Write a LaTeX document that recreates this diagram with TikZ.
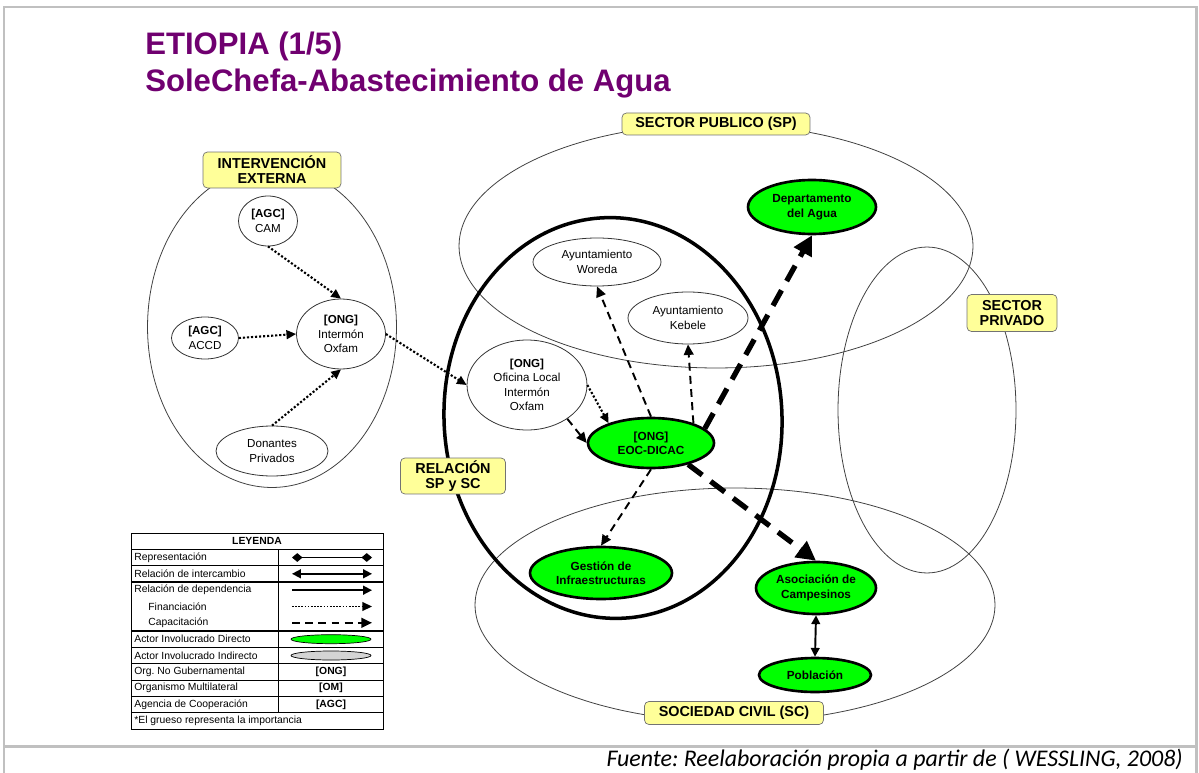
\documentclass[tikz,border=0pt]{standalone}
\usepackage{fontspec}
\setsansfont{Liberation Sans}
\newfontfamily\fuentefont{Carlito}
\usetikzlibrary{arrows.meta,shapes.geometric}
\definecolor{titlepurple}{RGB}{112,0,112}
\definecolor{tagyellow}{RGB}{255,255,153}
\definecolor{actorgreen}{RGB}{0,255,0}
\definecolor{framegray}{RGB}{192,192,192}
\frenchspacing

\begin{document}
\begin{tikzpicture}[
  x=0.02cm, y=-0.02cm,
  font=\sffamily,
  region/.style={draw=black!75, line width=0.45pt, ellipse, inner sep=0pt},
  sectortag/.style={draw=black!55, fill=tagyellow, rounded corners=2.5pt, align=center, inner sep=0pt, font=\sffamily\bfseries\fontsize{8.2}{8.6}\selectfont},
  actor/.style={draw=black!80, line width=0.45pt, ellipse, fill=white, inner sep=0pt, align=center, font=\sffamily\fontsize{6.6}{8.2}\selectfont},
  directo/.style={draw, line width=1.5pt, ellipse, fill=actorgreen, inner sep=0pt, align=center, font=\sffamily\bfseries\fontsize{6.7}{8.2}\selectfont},
  finan/.style={-{Triangle[length=5.5pt,width=5pt]}, line width=1.2pt, dash pattern=on 1.2pt off 1.1pt},
  capac/.style={-{Triangle[length=6pt,width=5.5pt]}, line width=1.1pt, dash pattern=on 4.5pt off 3pt},
  bigcapac/.style={-{Triangle[length=11pt,width=11pt]}, line width=3pt, dash pattern=on 10pt off 6pt},
  exch/.style={{Triangle[length=5pt,width=5pt]}-{Triangle[length=5pt,width=5pt]}, line width=1.1pt},
  legtxt/.style={anchor=west, inner sep=0pt, font=\sffamily\fontsize{5.9}{7}\selectfont},
  legmark/.style={inner sep=0pt, font=\sffamily\bfseries\fontsize{5.9}{7}\selectfont}
]
\useasboundingbox (0,0) rectangle (1199,773);

% frame and source line
\draw[framegray, line width=1.7pt] (4,773) -- (4,7) -- (1196,7) -- (1196,773);
\draw[framegray, line width=1.7pt] (4,746) -- (1196,746);
\node[anchor=base east, inner sep=0pt, font=\fuentefont\itshape\fontsize{13.6}{15}\selectfont] (fuente) at (1183,766)
  {Fuente: Reelaboración propia a partir de ( WESSLING, 2008)};

% title
\node[anchor=base west, inner sep=0pt, text=titlepurple, font=\sffamily\bfseries\fontsize{17.7}{21}\selectfont] (title1) at (145,55) {ETIOPIA (1/5)};
\node[anchor=base west, inner sep=0pt, text=titlepurple, font=\sffamily\bfseries\fontsize{17.7}{21}\selectfont] (title2) at (145,92) {SoleChefa-Abastecimiento de Agua};

% sectors
\node[region, minimum width=4.98cm, minimum height=6.42cm] (ext) at (272,327) {};
\node[region, minimum width=10.28cm, minimum height=4.88cm] (sp) at (716,246) {};
\node[region, minimum width=3.56cm, minimum height=6.52cm] (spriv) at (927,410) {};
\node[region, minimum width=10.4cm, minimum height=4.68cm] (sc) at (735,605) {};
\node[region, draw=black, line width=2pt, minimum width=6.76cm, minimum height=8.02cm, rotate=3] (rel) at (613,418) {};

% external intervention
\node[actor, minimum width=1.18cm, minimum height=1.0cm] (cam) at (268,221) {{\bfseries [AGC]}\\CAM};
\node[actor, minimum width=1.34cm, minimum height=0.84cm] (accd) at (205,338) {{\bfseries [AGC]}\\ACCD};
\node[actor, minimum width=1.78cm, minimum height=1.4cm] (intermon) at (341,334) {{\bfseries [ONG]}\\Intermón\\Oxfam};
\node[actor, minimum width=2.24cm, minimum height=1.0cm] (donantes) at (272,451) {Donantes\\Privados};

% local actors
\node[actor, minimum width=2.56cm, minimum height=0.96cm] (woreda) at (597,262) {Ayuntamiento\\Woreda};
\node[actor, minimum width=2.4cm, minimum height=1.04cm] (kebele) at (688,318) {Ayuntamiento\\Kebele};
\node[actor, minimum width=2.4cm, minimum height=1.8cm] (oficina) at (527,385) {{\bfseries [ONG]}\\Oficina Local\\Intermón\\Oxfam};
\node[directo, minimum width=2.52cm, minimum height=1.0cm] (eoc) at (651,443) {[ONG]\\EOC-DICAC};
\node[directo, minimum width=2.56cm, minimum height=1.08cm] (dpto) at (812,207) {Departamento\\del Agua};
\node[directo, minimum width=2.84cm, minimum height=1.04cm] (gestion) at (601,573) {Gestión de\\Infraestructuras};
\node[directo, minimum width=2.4cm, minimum height=1.04cm] (asoc) at (816,588) {Asociación de\\Campesinos};
\node[directo, minimum width=2.24cm, minimum height=0.68cm] (poblacion) at (815,675) {Población};

% relations
\draw[finan] (cam.south) -- (intermon.north);
\draw[finan] (accd.east) -- (intermon.west);
\draw[finan] (donantes.north) -- (intermon.south);
\draw[finan] (intermon.east) -- (oficina.west);
\draw[finan] (oficina.east) -- (eoc.155);
\draw[capac] (oficina.-40) -- (eoc.west);
\draw[capac] (eoc.north) -- (woreda.south);
\draw[capac] (eoc.25) -- (kebele.south);
\draw[capac] (eoc.south) -- (gestion.north);
\draw[bigcapac] (eoc.15) -- (dpto.south);
\draw[bigcapac] (eoc.-30) -- (asoc.north);
\draw[exch] (asoc.south) -- (poblacion.north);

% sector labels
\node[sectortag, minimum width=2.76cm, minimum height=0.72cm] (exttag) at (272,170) {INTERVENCIÓN\\EXTERNA};
\node[sectortag, minimum width=3.76cm, minimum height=0.44cm] (sptag) at (716,124) {SECTOR PUBLICO (SP)};
\node[sectortag, minimum width=1.8cm, minimum height=0.74cm] (sprivtag) at (1012,313) {SECTOR\\PRIVADO};
\node[sectortag, minimum width=2.1cm, minimum height=0.72cm] (reltag) at (453,476) {RELACIÓN\\SP y SC};
\node[sectortag, minimum width=3.58cm, minimum height=0.46cm] (sctag) at (734,713) {SOCIEDAD CIVIL (SC)};

% legend
\draw[line width=0.5pt] (131,533) rectangle (383,729);
\foreach \k in {1,2,3,6,7,8,9,10,11}
  \draw[line width=0.5pt] (131,{533+16.33*\k}) -- (383,{533+16.33*\k});
\foreach \k in {1,2,3,6,8,11}
  \draw[line width=0.9pt] (131,{533+16.33*\k}) -- (383,{533+16.33*\k});
\draw[line width=0.5pt] (278,549.3) -- (278,712.6);
\node[legmark] (leyenda) at (257,541.2) {LEYENDA};
\foreach \txt [count=\i] in {Representación, Relación de intercambio, Relación de dependencia,
  \hspace*{8pt}Financiación, \hspace*{8pt}Capacitación, Actor Involucrado Directo,
  Actor Involucrado Indirecto, Org. No Gubernamental, Organismo Multilateral,
  Agencia de Cooperación, *El grueso representa la importancia}
  \node[legtxt] (leg\i) at (134,{533+16.33*\i+8.17}) {\txt};
\coordinate (repA) at (292,557.5);   \coordinate (repB) at (372,557.5);
\coordinate (intA) at (292,573.8);   \coordinate (intB) at (372,573.8);
\coordinate (depA) at (292,590.2);   \coordinate (depB) at (372,590.2);
\coordinate (finA) at (292,606.5);   \coordinate (finB) at (372,606.5);
\coordinate (capA) at (292,622.8);   \coordinate (capB) at (372,622.8);
\draw[{Diamond[length=6pt,width=5pt]}-{Diamond[length=6pt,width=5pt]}, line width=0.8pt] (repA) -- (repB);
\draw[exch, line width=0.9pt] (intA) -- (intB);
\draw[-{Triangle[length=5pt,width=5pt]}, line width=0.9pt] (depA) -- (depB);
\draw[finan, line width=0.9pt, dash pattern=on 0.9pt off 0.9pt] (finA) -- (finB);
\draw[capac, line width=1pt] (capA) -- (capB);
\node[ellipse, draw, fill=actorgreen, inner sep=0pt, minimum width=1.6cm, minimum height=0.18cm] (legdir) at (331,639.2) {};
\node[ellipse, draw, fill=black!17, inner sep=0pt, minimum width=1.6cm, minimum height=0.18cm] (legind) at (331,655.5) {};
\node[legmark] (legong) at (331,671.8) {[ONG]};
\node[legmark] (legom) at (331,688.1) {[OM]};
\node[legmark] (legagc) at (331,704.5) {[AGC]};

\end{tikzpicture}
\end{document}
